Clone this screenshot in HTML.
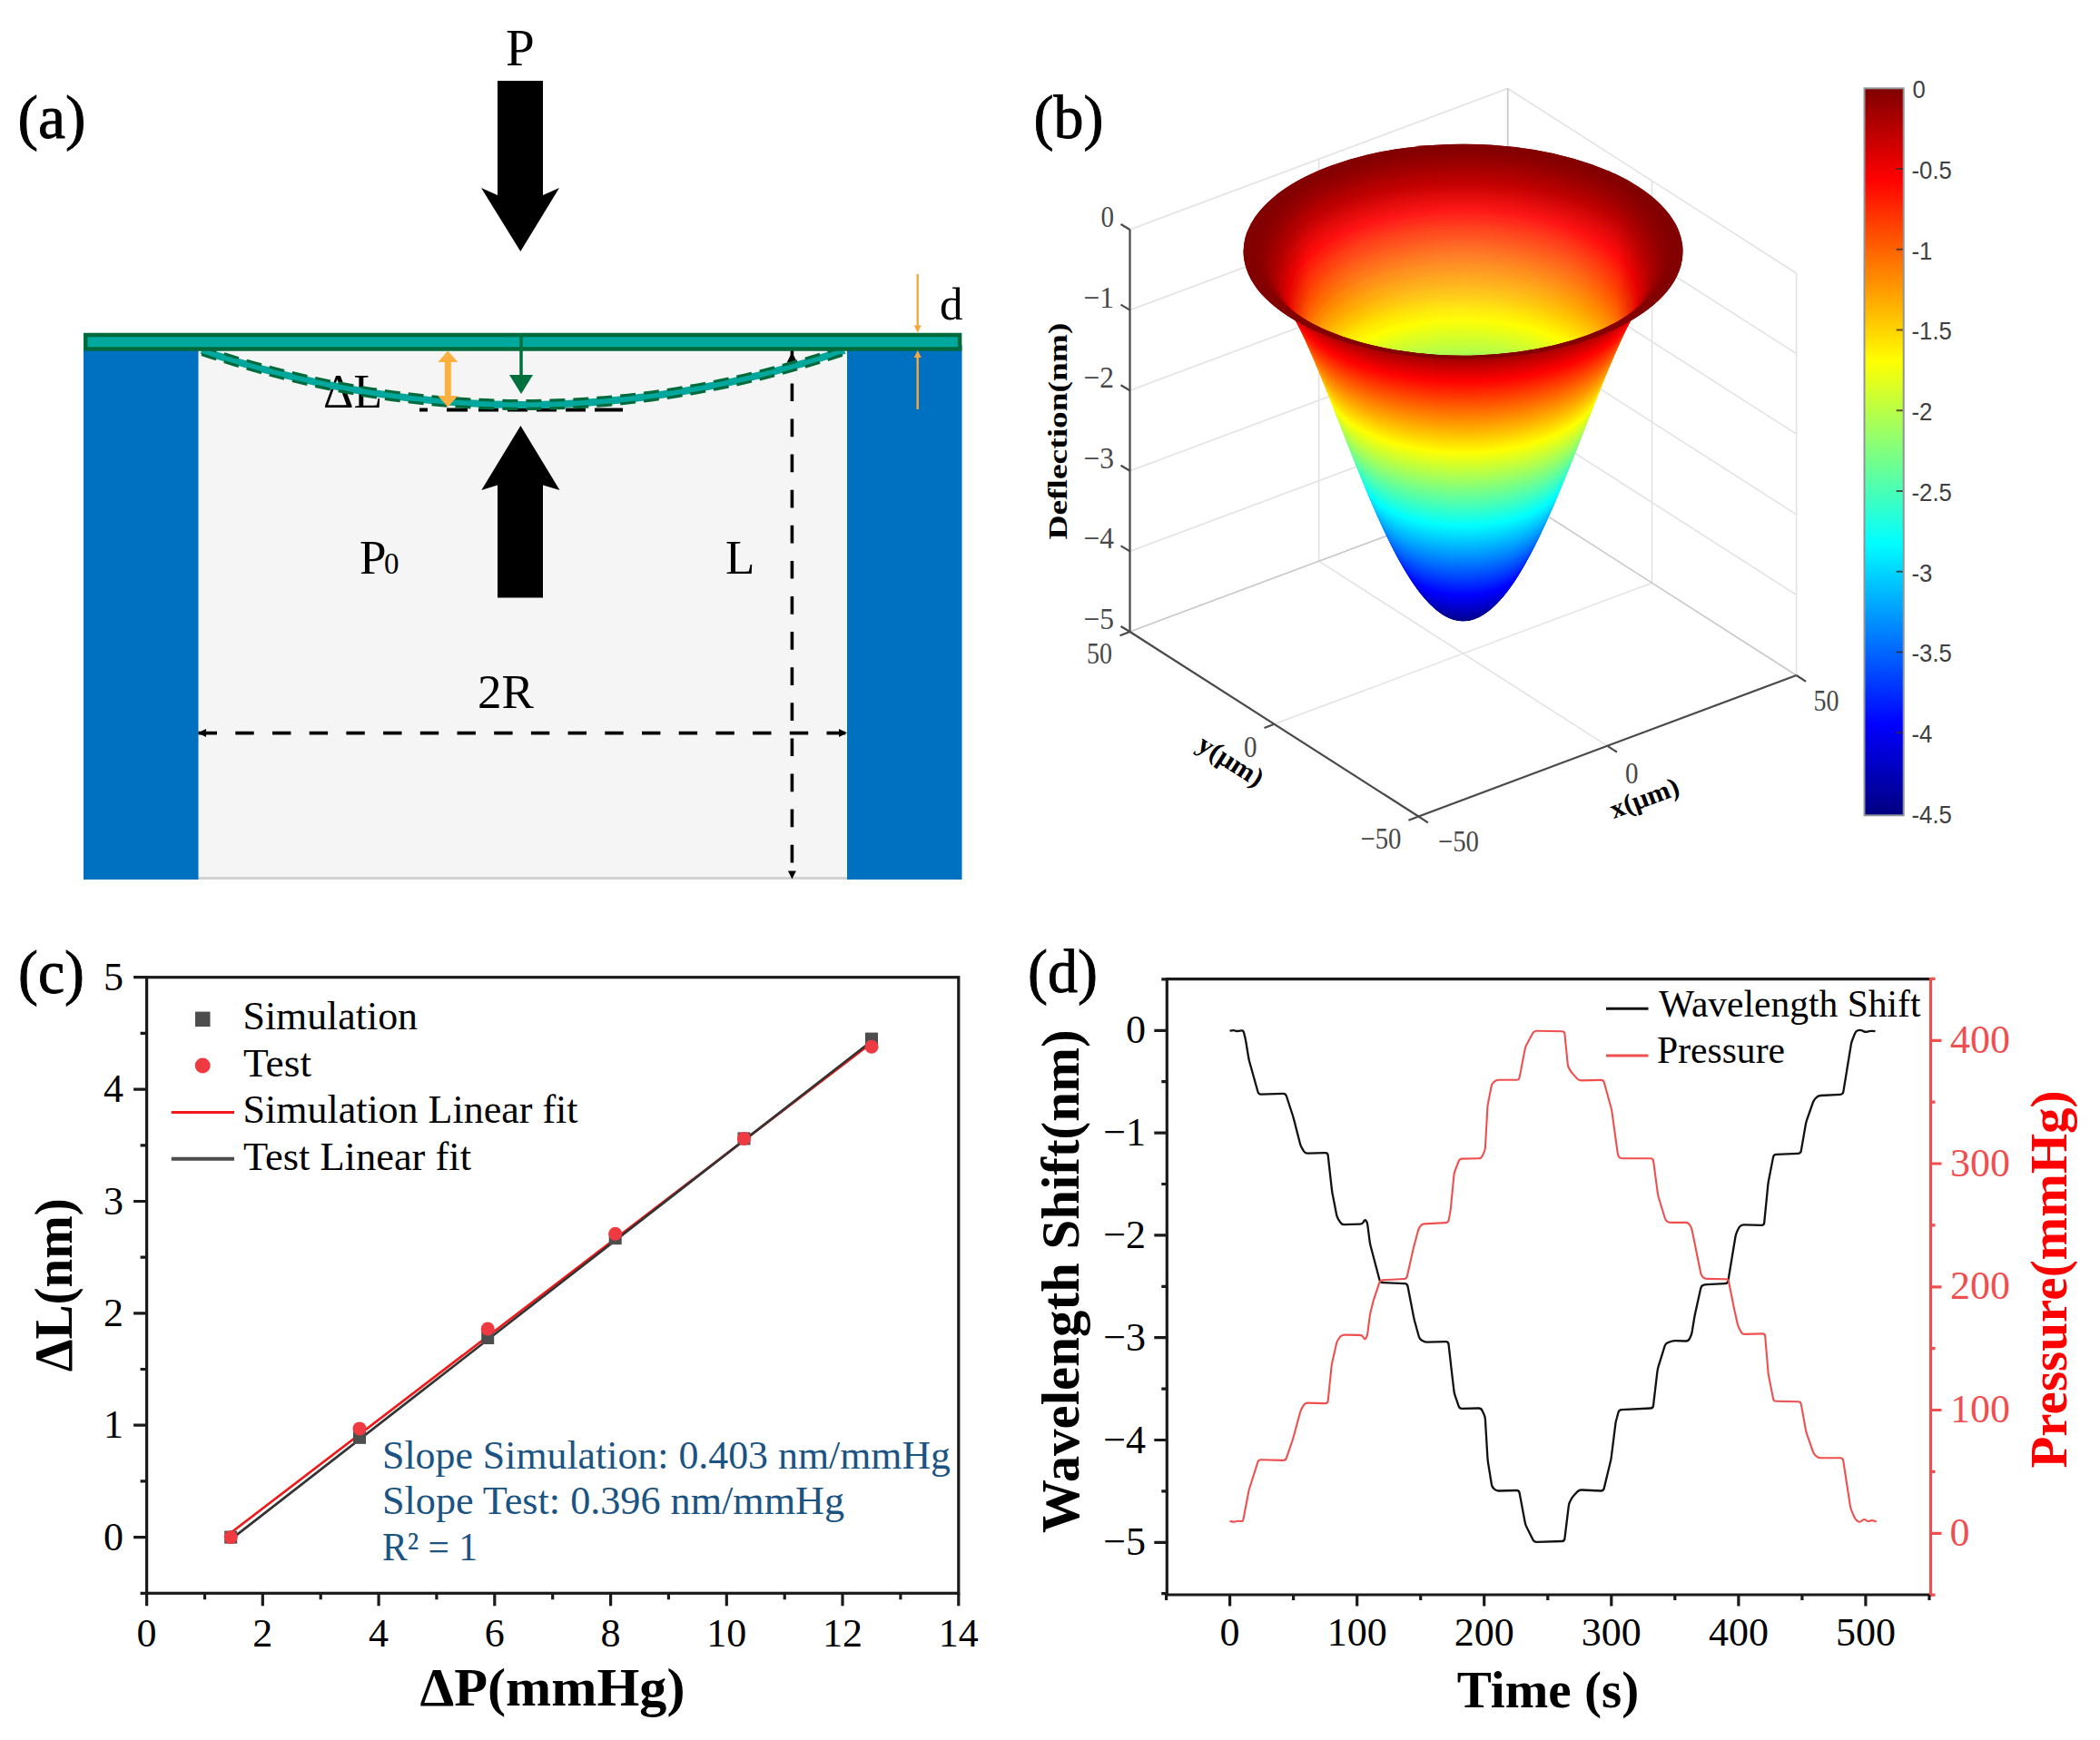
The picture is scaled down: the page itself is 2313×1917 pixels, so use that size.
<!DOCTYPE html>
<html><head><meta charset="utf-8"><title>Figure</title>
<style>
html,body{margin:0;padding:0;background:#fff;}
body{width:2313px;height:1917px;overflow:hidden;}
svg{display:block;}
svg{font-family:"Liberation Serif",serif;}
</style></head><body>
<svg width="2313" height="1917" viewBox="0 0 2313 1917">
<rect width="2313" height="1917" fill="#fff"/>
<g id="panel-a">
<rect x="218" y="380" width="716" height="589" fill="#f5f5f5"/>
<rect x="218" y="966" width="716" height="3" fill="#d2d2d2"/>
<rect x="92" y="380" width="126.5" height="589" fill="#0070c0"/>
<rect x="933" y="380" width="126.5" height="589" fill="#0070c0"/>
<text x="356" y="449" font-size="52">ΔL</text>
<path d="M218.6 807.6 H933" fill="none" stroke="#000" stroke-width="3.6" stroke-dasharray="20.4 20.3"/>
<path d="M872.4 383.3 V962" fill="none" stroke="#000" stroke-width="3.6" stroke-dasharray="19.7 19.4"/>
<path d="M218 807.6 l9 -4.5 v9 Z M933 807.6 l-9 -4.5 v9 Z M872.4 968.5 l-4.5 -9 h9 Z M872.4 388 l-5.5 11 h11 Z" fill="#000"/>
<path d="M462 451.5 H686" fill="none" stroke="#000" stroke-width="4" stroke-dasharray="9 21 23 12 22 10 22 10 22 10 22 10 22 0"/>
<path d="M222 386 Q576 506 930 386" fill="none" stroke="#00a79d" stroke-width="8"/>
<path d="M222 381.6 Q576 501.6 930 381.6" fill="none" stroke="#006a3c" stroke-width="3.2" stroke-dasharray="17 9"/>
<path d="M222 390.4 Q576 510.4 930 390.4" fill="none" stroke="#006a3c" stroke-width="3.2" stroke-dasharray="17 9"/>
<rect x="94.3" y="369" width="962.8" height="15.5" fill="#00a99d" stroke="#006a3c" stroke-width="4.5"/>
<path d="M548 89 H598 V215 L616 207 L573.3 277 L530 207 L548 215 Z" fill="#000"/>
<path d="M548 658.5 H598 V534.5 L616.5 540 L573.4 469 L530.3 540 L548 534.5 Z" fill="#000"/>
<path d="M574 367 V420" stroke="#00703c" stroke-width="3.5" fill="none"/><path d="M574 434 l-13 -21 h26 Z" fill="#00703c"/>
<path d="M493.3 398 V438" stroke="#fbb040" stroke-width="7" fill="none"/><path d="M493.3 386.5 l-11 12.5 h22 Z M493.3 448.5 l-11 -12.5 h22 Z" fill="#fbb040"/>
<path d="M1010.7 302 V360 M1010.7 392 V451" stroke="#f9a63a" stroke-width="2.4" fill="none"/><path d="M1010.7 366.5 l-4 -8 h8 Z M1010.7 386 l-4 8 h8 Z" fill="#f9a63a"/>
<text x="19.5" y="151.7" font-size="68" textLength="75" lengthAdjust="spacingAndGlyphs" stroke="#000" stroke-width="0.9">(a)</text>
<text x="557" y="71.5" font-size="57">P</text>
<text x="1035" y="352" font-size="51">d</text>
<text x="396" y="631.5" font-size="53">P</text>
<text x="423" y="631.5" font-size="33">0</text>
<text x="799" y="631.5" font-size="53">L</text>
<text x="526" y="779.5" font-size="53">2R</text>
</g>
<g id="panel-b">
<path d="M1244.5 253 L1660.7 97.5 M1244.5 341.6 L1660.7 186.1 M1244.5 430.2 L1660.7 274.7 M1244.5 518.8 L1660.7 363.3 M1244.5 607.4 L1660.7 451.9 M1244.5 696 L1660.7 540.5 M1244.5 696 L1244.5 253 M1452.6 618.2 L1452.6 175.2 M1660.7 540.5 L1660.7 97.5" fill="none" stroke="#000" stroke-opacity="0.115" stroke-width="1.6"/>
<path d="M1660.7 97.5 L1978.6 301 M1660.7 186.1 L1978.6 389.6 M1660.7 274.7 L1978.6 478.2 M1660.7 363.3 L1978.6 566.8 M1660.7 451.9 L1978.6 655.4 M1660.7 540.5 L1978.6 744 M1978.6 744 L1978.6 301 M1819.6 642.2 L1819.6 199.2 M1660.7 540.5 L1660.7 97.5" fill="none" stroke="#000" stroke-opacity="0.115" stroke-width="1.6"/>
<path d="M1562.4 899.5 L1244.5 696 M1562.4 899.5 L1978.6 744 M1770.5 821.8 L1452.6 618.2 M1403.5 797.8 L1819.6 642.2 M1978.6 744 L1660.7 540.5 M1244.5 696 L1660.7 540.5" fill="none" stroke="#000" stroke-opacity="0.115" stroke-width="1.6"/>
<g transform="matrix(4.1620 -1.5550 -3.1790 -2.0350 1611.55 277.00)">
<circle cx="-95.55" cy="-125.09" r="0.30" fill="#000080"/>
<circle cx="-95.13" cy="-124.55" r="2.13" fill="#000080"/>
<circle cx="-94.71" cy="-124.00" r="3.01" fill="#000080"/>
<circle cx="-94.30" cy="-123.46" r="3.69" fill="#000082"/>
<circle cx="-93.88" cy="-122.91" r="4.26" fill="#000086"/>
<circle cx="-93.47" cy="-122.37" r="4.77" fill="#00008b"/>
<circle cx="-93.05" cy="-121.83" r="5.23" fill="#00008f"/>
<circle cx="-92.64" cy="-121.28" r="5.65" fill="#000094"/>
<circle cx="-92.22" cy="-120.74" r="6.04" fill="#000098"/>
<circle cx="-91.81" cy="-120.19" r="6.41" fill="#00009d"/>
<circle cx="-91.39" cy="-119.65" r="6.76" fill="#0000a1"/>
<circle cx="-90.98" cy="-119.11" r="7.09" fill="#0000a5"/>
<circle cx="-90.56" cy="-118.56" r="7.41" fill="#0000aa"/>
<circle cx="-90.14" cy="-118.02" r="7.72" fill="#0000ae"/>
<circle cx="-89.73" cy="-117.48" r="8.02" fill="#0000b3"/>
<circle cx="-89.31" cy="-116.93" r="8.30" fill="#0000b7"/>
<circle cx="-88.90" cy="-116.39" r="8.58" fill="#0000bc"/>
<circle cx="-88.48" cy="-115.84" r="8.85" fill="#0000c0"/>
<circle cx="-88.07" cy="-115.30" r="9.11" fill="#0000c5"/>
<circle cx="-87.65" cy="-114.76" r="9.37" fill="#0000c9"/>
<circle cx="-87.24" cy="-114.21" r="9.62" fill="#0000ce"/>
<circle cx="-86.82" cy="-113.67" r="9.86" fill="#0000d2"/>
<circle cx="-86.41" cy="-113.12" r="10.10" fill="#0000d7"/>
<circle cx="-85.99" cy="-112.58" r="10.33" fill="#0000db"/>
<circle cx="-85.58" cy="-112.04" r="10.56" fill="#0000e0"/>
<circle cx="-85.16" cy="-111.49" r="10.78" fill="#0000e4"/>
<circle cx="-84.74" cy="-110.95" r="11.00" fill="#0000e9"/>
<circle cx="-84.33" cy="-110.41" r="11.22" fill="#0000ed"/>
<circle cx="-83.91" cy="-109.86" r="11.43" fill="#0000f2"/>
<circle cx="-83.50" cy="-109.32" r="11.64" fill="#0000f6"/>
<circle cx="-83.08" cy="-108.77" r="11.85" fill="#0000fb"/>
<circle cx="-82.67" cy="-108.23" r="12.05" fill="#0000ff"/>
<circle cx="-82.25" cy="-107.69" r="12.25" fill="#0005ff"/>
<circle cx="-81.84" cy="-107.14" r="12.45" fill="#0009ff"/>
<circle cx="-81.42" cy="-106.60" r="12.64" fill="#000eff"/>
<circle cx="-81.01" cy="-106.05" r="12.84" fill="#0012ff"/>
<circle cx="-80.59" cy="-105.51" r="13.03" fill="#0017ff"/>
<circle cx="-80.17" cy="-104.97" r="13.21" fill="#001bff"/>
<circle cx="-79.76" cy="-104.42" r="13.40" fill="#0020ff"/>
<circle cx="-79.34" cy="-103.88" r="13.58" fill="#0024ff"/>
<circle cx="-78.93" cy="-103.33" r="13.76" fill="#0029ff"/>
<circle cx="-78.51" cy="-102.79" r="13.94" fill="#002dff"/>
<circle cx="-78.10" cy="-102.25" r="14.12" fill="#0031ff"/>
<circle cx="-77.68" cy="-101.70" r="14.30" fill="#0036ff"/>
<circle cx="-77.27" cy="-101.16" r="14.47" fill="#003aff"/>
<circle cx="-76.85" cy="-100.62" r="14.65" fill="#003fff"/>
<circle cx="-76.44" cy="-100.07" r="14.82" fill="#0043ff"/>
<circle cx="-76.02" cy="-99.53" r="14.99" fill="#0048ff"/>
<circle cx="-75.61" cy="-98.98" r="15.15" fill="#004cff"/>
<circle cx="-75.19" cy="-98.44" r="15.32" fill="#0051ff"/>
<circle cx="-74.77" cy="-97.90" r="15.49" fill="#0055ff"/>
<circle cx="-74.36" cy="-97.35" r="15.65" fill="#005aff"/>
<circle cx="-73.94" cy="-96.81" r="15.81" fill="#005eff"/>
<circle cx="-73.53" cy="-96.26" r="15.98" fill="#0063ff"/>
<circle cx="-73.11" cy="-95.72" r="16.14" fill="#0067ff"/>
<circle cx="-72.70" cy="-95.18" r="16.30" fill="#006cff"/>
<circle cx="-72.28" cy="-94.63" r="16.46" fill="#0070ff"/>
<circle cx="-71.87" cy="-94.09" r="16.61" fill="#0075ff"/>
<circle cx="-71.45" cy="-93.55" r="16.77" fill="#0079ff"/>
<circle cx="-71.04" cy="-93.00" r="16.92" fill="#007eff"/>
<circle cx="-70.62" cy="-92.46" r="17.08" fill="#0082ff"/>
<circle cx="-70.21" cy="-91.91" r="17.23" fill="#0087ff"/>
<circle cx="-69.79" cy="-91.37" r="17.38" fill="#008bff"/>
<circle cx="-69.37" cy="-90.83" r="17.54" fill="#0090ff"/>
<circle cx="-68.96" cy="-90.28" r="17.69" fill="#0094ff"/>
<circle cx="-68.54" cy="-89.74" r="17.84" fill="#0099ff"/>
<circle cx="-68.13" cy="-89.19" r="17.99" fill="#009dff"/>
<circle cx="-67.71" cy="-88.65" r="18.13" fill="#00a2ff"/>
<circle cx="-67.30" cy="-88.11" r="18.28" fill="#00a6ff"/>
<circle cx="-66.88" cy="-87.56" r="18.43" fill="#00abff"/>
<circle cx="-66.47" cy="-87.02" r="18.58" fill="#00afff"/>
<circle cx="-66.05" cy="-86.47" r="18.72" fill="#00b4ff"/>
<circle cx="-65.64" cy="-85.93" r="18.87" fill="#00b8ff"/>
<circle cx="-65.22" cy="-85.39" r="19.01" fill="#00bdff"/>
<circle cx="-64.80" cy="-84.84" r="19.15" fill="#00c1ff"/>
<circle cx="-64.39" cy="-84.30" r="19.30" fill="#00c5ff"/>
<circle cx="-63.97" cy="-83.76" r="19.44" fill="#00caff"/>
<circle cx="-63.56" cy="-83.21" r="19.58" fill="#00ceff"/>
<circle cx="-63.14" cy="-82.67" r="19.72" fill="#00d3ff"/>
<circle cx="-62.73" cy="-82.12" r="19.86" fill="#00d7ff"/>
<circle cx="-62.31" cy="-81.58" r="20.00" fill="#00dcff"/>
<circle cx="-61.90" cy="-81.04" r="20.14" fill="#00e0ff"/>
<circle cx="-61.48" cy="-80.49" r="20.28" fill="#00e5ff"/>
<circle cx="-61.07" cy="-79.95" r="20.42" fill="#00e9ff"/>
<circle cx="-60.65" cy="-79.40" r="20.56" fill="#00eeff"/>
<circle cx="-60.24" cy="-78.86" r="20.70" fill="#00f2ff"/>
<circle cx="-59.82" cy="-78.32" r="20.83" fill="#00f7ff"/>
<circle cx="-59.40" cy="-77.77" r="20.97" fill="#00fbff"/>
<circle cx="-58.99" cy="-77.23" r="21.11" fill="#01fffe"/>
<circle cx="-58.57" cy="-76.69" r="21.24" fill="#05fffa"/>
<circle cx="-58.16" cy="-76.14" r="21.38" fill="#0afff5"/>
<circle cx="-57.74" cy="-75.60" r="21.51" fill="#0efff1"/>
<circle cx="-57.33" cy="-75.05" r="21.65" fill="#13ffec"/>
<circle cx="-56.91" cy="-74.51" r="21.78" fill="#17ffe8"/>
<circle cx="-56.50" cy="-73.97" r="21.92" fill="#1cffe3"/>
<circle cx="-56.08" cy="-73.42" r="22.05" fill="#20ffdf"/>
<circle cx="-55.67" cy="-72.88" r="22.19" fill="#25ffda"/>
<circle cx="-55.25" cy="-72.33" r="22.32" fill="#29ffd6"/>
<circle cx="-54.83" cy="-71.79" r="22.45" fill="#2effd1"/>
<circle cx="-54.42" cy="-71.25" r="22.58" fill="#32ffcd"/>
<circle cx="-54.00" cy="-70.70" r="22.72" fill="#37ffc8"/>
<circle cx="-53.59" cy="-70.16" r="22.85" fill="#3bffc4"/>
<circle cx="-53.17" cy="-69.62" r="22.98" fill="#40ffbf"/>
<circle cx="-52.76" cy="-69.07" r="23.11" fill="#44ffbb"/>
<circle cx="-52.34" cy="-68.53" r="23.24" fill="#49ffb6"/>
<circle cx="-51.93" cy="-67.98" r="23.38" fill="#4dffb2"/>
<circle cx="-51.51" cy="-67.44" r="23.51" fill="#51ffae"/>
<circle cx="-51.10" cy="-66.90" r="23.64" fill="#56ffa9"/>
<circle cx="-50.68" cy="-66.35" r="23.77" fill="#5affa5"/>
<circle cx="-50.27" cy="-65.81" r="23.90" fill="#5fffa0"/>
<circle cx="-49.85" cy="-65.26" r="24.03" fill="#63ff9c"/>
<circle cx="-49.43" cy="-64.72" r="24.16" fill="#68ff97"/>
<circle cx="-49.02" cy="-64.18" r="24.29" fill="#6cff93"/>
<circle cx="-48.60" cy="-63.63" r="24.42" fill="#71ff8e"/>
<circle cx="-48.19" cy="-63.09" r="24.55" fill="#75ff8a"/>
<circle cx="-47.77" cy="-62.54" r="24.68" fill="#7aff85"/>
<circle cx="-47.36" cy="-62.00" r="24.81" fill="#7eff81"/>
<circle cx="-46.94" cy="-61.46" r="24.94" fill="#83ff7c"/>
<circle cx="-46.53" cy="-60.91" r="25.07" fill="#87ff78"/>
<circle cx="-46.11" cy="-60.37" r="25.20" fill="#8cff73"/>
<circle cx="-45.70" cy="-59.83" r="25.32" fill="#90ff6f"/>
<circle cx="-45.28" cy="-59.28" r="25.45" fill="#95ff6a"/>
<circle cx="-44.86" cy="-58.74" r="25.58" fill="#99ff66"/>
<circle cx="-44.45" cy="-58.19" r="25.71" fill="#9eff61"/>
<circle cx="-44.03" cy="-57.65" r="25.84" fill="#a2ff5d"/>
<circle cx="-43.62" cy="-57.11" r="25.97" fill="#a7ff58"/>
<circle cx="-43.20" cy="-56.56" r="26.10" fill="#abff54"/>
<circle cx="-42.79" cy="-56.02" r="26.23" fill="#b0ff4f"/>
<circle cx="-42.37" cy="-55.47" r="26.36" fill="#b4ff4b"/>
<circle cx="-41.96" cy="-54.93" r="26.48" fill="#b9ff46"/>
<circle cx="-41.54" cy="-54.39" r="26.61" fill="#bdff42"/>
<circle cx="-41.13" cy="-53.84" r="26.74" fill="#c2ff3d"/>
<circle cx="-40.71" cy="-53.30" r="26.87" fill="#c6ff39"/>
<circle cx="-40.30" cy="-52.76" r="27.00" fill="#cbff34"/>
<circle cx="-39.88" cy="-52.21" r="27.13" fill="#cfff30"/>
<circle cx="-39.46" cy="-51.67" r="27.26" fill="#d4ff2b"/>
<circle cx="-39.05" cy="-51.12" r="27.39" fill="#d8ff27"/>
<circle cx="-38.63" cy="-50.58" r="27.52" fill="#dcff23"/>
<circle cx="-38.22" cy="-50.04" r="27.65" fill="#e1ff1e"/>
<circle cx="-37.80" cy="-49.49" r="27.77" fill="#e5ff1a"/>
<circle cx="-37.39" cy="-48.95" r="27.90" fill="#eaff15"/>
<circle cx="-36.97" cy="-48.40" r="28.03" fill="#eeff11"/>
<circle cx="-36.56" cy="-47.86" r="28.16" fill="#f3ff0c"/>
<circle cx="-36.14" cy="-47.32" r="28.29" fill="#f7ff08"/>
<circle cx="-35.73" cy="-46.77" r="28.42" fill="#fcff03"/>
<circle cx="-35.31" cy="-46.23" r="28.55" fill="#fffe00"/>
<circle cx="-34.89" cy="-45.68" r="28.68" fill="#fff900"/>
<circle cx="-34.48" cy="-45.14" r="28.81" fill="#fff500"/>
<circle cx="-34.06" cy="-44.60" r="28.94" fill="#fff000"/>
<circle cx="-33.65" cy="-44.05" r="29.08" fill="#ffec00"/>
<circle cx="-33.23" cy="-43.51" r="29.21" fill="#ffe700"/>
<circle cx="-32.82" cy="-42.97" r="29.34" fill="#ffe300"/>
<circle cx="-32.40" cy="-42.42" r="29.47" fill="#ffde00"/>
<circle cx="-31.99" cy="-41.88" r="29.60" fill="#ffda00"/>
<circle cx="-31.57" cy="-41.33" r="29.73" fill="#ffd500"/>
<circle cx="-31.16" cy="-40.79" r="29.87" fill="#ffd100"/>
<circle cx="-30.74" cy="-40.25" r="30.00" fill="#ffcc00"/>
<circle cx="-30.33" cy="-39.70" r="30.13" fill="#ffc800"/>
<circle cx="-29.91" cy="-39.16" r="30.26" fill="#ffc300"/>
<circle cx="-29.49" cy="-38.61" r="30.40" fill="#ffbf00"/>
<circle cx="-29.08" cy="-38.07" r="30.53" fill="#ffba00"/>
<circle cx="-28.66" cy="-37.53" r="30.67" fill="#ffb600"/>
<circle cx="-28.25" cy="-36.98" r="30.80" fill="#ffb100"/>
<circle cx="-27.83" cy="-36.44" r="30.94" fill="#ffad00"/>
<circle cx="-27.42" cy="-35.90" r="31.07" fill="#ffa800"/>
<circle cx="-27.00" cy="-35.35" r="31.21" fill="#ffa400"/>
<circle cx="-26.59" cy="-34.81" r="31.34" fill="#ff9f00"/>
<circle cx="-26.17" cy="-34.26" r="31.48" fill="#ff9b00"/>
<circle cx="-25.76" cy="-33.72" r="31.62" fill="#ff9700"/>
<circle cx="-25.34" cy="-33.18" r="31.76" fill="#ff9200"/>
<circle cx="-24.92" cy="-32.63" r="31.90" fill="#ff8e00"/>
<circle cx="-24.51" cy="-32.09" r="32.03" fill="#ff8900"/>
<circle cx="-24.09" cy="-31.54" r="32.17" fill="#ff8500"/>
<circle cx="-23.68" cy="-31.00" r="32.31" fill="#ff8000"/>
<circle cx="-23.26" cy="-30.46" r="32.46" fill="#ff7c00"/>
<circle cx="-22.85" cy="-29.91" r="32.60" fill="#ff7700"/>
<circle cx="-22.43" cy="-29.37" r="32.74" fill="#ff7300"/>
<circle cx="-22.02" cy="-28.82" r="32.88" fill="#ff6e00"/>
<circle cx="-21.60" cy="-28.28" r="33.03" fill="#ff6a00"/>
<circle cx="-21.19" cy="-27.74" r="33.17" fill="#ff6500"/>
<circle cx="-20.77" cy="-27.19" r="33.31" fill="#ff6100"/>
<circle cx="-20.36" cy="-26.65" r="33.46" fill="#ff5c00"/>
<circle cx="-19.94" cy="-26.11" r="33.61" fill="#ff5800"/>
<circle cx="-19.52" cy="-25.56" r="33.75" fill="#ff5300"/>
<circle cx="-19.11" cy="-25.02" r="33.90" fill="#ff4f00"/>
<circle cx="-18.69" cy="-24.47" r="34.05" fill="#ff4a00"/>
<circle cx="-18.28" cy="-23.93" r="34.20" fill="#ff4600"/>
<circle cx="-17.86" cy="-23.39" r="34.36" fill="#ff4100"/>
<circle cx="-17.45" cy="-22.84" r="34.51" fill="#ff3d00"/>
<circle cx="-17.03" cy="-22.30" r="34.66" fill="#ff3800"/>
<circle cx="-16.62" cy="-21.75" r="34.82" fill="#ff3400"/>
<circle cx="-16.20" cy="-21.21" r="34.97" fill="#ff2f00"/>
<circle cx="-15.79" cy="-20.67" r="35.13" fill="#ff2b00"/>
<circle cx="-15.37" cy="-20.12" r="35.29" fill="#ff2600"/>
<circle cx="-14.95" cy="-19.58" r="35.45" fill="#ff2200"/>
<circle cx="-14.54" cy="-19.04" r="35.61" fill="#ff1d00"/>
<circle cx="-14.12" cy="-18.49" r="35.78" fill="#ff1900"/>
<circle cx="-13.71" cy="-17.95" r="35.94" fill="#ff1400"/>
<circle cx="-13.29" cy="-17.40" r="36.11" fill="#ff1000"/>
<circle cx="-12.88" cy="-16.86" r="36.28" fill="#ff0c00"/>
<circle cx="-12.46" cy="-16.32" r="36.45" fill="#ff0700"/>
<circle cx="-12.05" cy="-15.77" r="36.62" fill="#ff0300"/>
<circle cx="-11.63" cy="-15.23" r="36.79" fill="#fd0000"/>
<circle cx="-11.22" cy="-14.68" r="36.97" fill="#f90000"/>
<circle cx="-10.80" cy="-14.14" r="37.15" fill="#f40000"/>
<circle cx="-10.39" cy="-13.60" r="37.33" fill="#f00000"/>
<circle cx="-9.97" cy="-13.05" r="37.52" fill="#eb0000"/>
<circle cx="-9.55" cy="-12.51" r="37.71" fill="#e70000"/>
<circle cx="-9.14" cy="-11.97" r="37.90" fill="#e20000"/>
<circle cx="-8.72" cy="-11.42" r="38.09" fill="#de0000"/>
<circle cx="-8.31" cy="-10.88" r="38.29" fill="#d90000"/>
<circle cx="-7.89" cy="-10.33" r="38.49" fill="#d50000"/>
<circle cx="-7.48" cy="-9.79" r="38.70" fill="#d00000"/>
<circle cx="-7.06" cy="-9.25" r="38.91" fill="#cc0000"/>
<circle cx="-6.65" cy="-8.70" r="39.13" fill="#c70000"/>
<circle cx="-6.23" cy="-8.16" r="39.35" fill="#c30000"/>
<circle cx="-5.82" cy="-7.61" r="39.58" fill="#be0000"/>
<circle cx="-5.40" cy="-7.07" r="39.81" fill="#ba0000"/>
<circle cx="-4.98" cy="-6.53" r="40.05" fill="#b50000"/>
<circle cx="-4.57" cy="-5.98" r="40.31" fill="#b10000"/>
<circle cx="-4.15" cy="-5.44" r="40.57" fill="#ac0000"/>
<circle cx="-3.74" cy="-4.89" r="40.84" fill="#a80000"/>
<circle cx="-3.32" cy="-4.35" r="41.13" fill="#a30000"/>
<circle cx="-2.91" cy="-3.81" r="41.43" fill="#9f0000"/>
<circle cx="-2.49" cy="-3.26" r="41.76" fill="#9a0000"/>
<circle cx="-2.08" cy="-2.72" r="42.10" fill="#960000"/>
<circle cx="-1.66" cy="-2.18" r="42.49" fill="#910000"/>
<circle cx="-1.25" cy="-1.63" r="42.92" fill="#8d0000"/>
<circle cx="-0.83" cy="-1.09" r="43.42" fill="#880000"/>
<circle cx="-0.42" cy="-0.54" r="44.07" fill="#840000"/>
<circle cx="0.00" cy="0.00" r="46.20" fill="#800000"/>
<mask id="rim" maskUnits="userSpaceOnUse" x="-60" y="-60" width="120" height="120"><circle cx="0" cy="0" r="46.20" fill="#fff"/></mask><g mask="url(#rim)" fill-rule="evenodd">
<circle r="46.20" fill="#19ffe6"/>
<path d="M-60-60h120v120h-120zM-78.55 -74.23a21.85 21.85 0 1 0 43.71 0a21.85 21.85 0 1 0 -43.71 0z" fill="#19ffe6"/>
<path d="M-60-60h120v120h-120zM-78.29 -73.73a21.98 21.98 0 1 0 43.95 0a21.98 21.98 0 1 0 -43.95 0z" fill="#1effe1"/>
<path d="M-60-60h120v120h-120zM-78.04 -73.24a22.10 22.10 0 1 0 44.19 0a22.10 22.10 0 1 0 -44.19 0z" fill="#22ffdd"/>
<path d="M-60-60h120v120h-120zM-77.78 -72.74a22.22 22.22 0 1 0 44.44 0a22.22 22.22 0 1 0 -44.44 0z" fill="#26ffd9"/>
<path d="M-60-60h120v120h-120zM-77.53 -72.25a22.34 22.34 0 1 0 44.68 0a22.34 22.34 0 1 0 -44.68 0z" fill="#2affd5"/>
<path d="M-60-60h120v120h-120zM-77.27 -71.75a22.46 22.46 0 1 0 44.92 0a22.46 22.46 0 1 0 -44.92 0z" fill="#2effd1"/>
<path d="M-60-60h120v120h-120zM-77.01 -71.26a22.58 22.58 0 1 0 45.16 0a22.58 22.58 0 1 0 -45.16 0z" fill="#32ffcd"/>
<path d="M-60-60h120v120h-120zM-76.75 -70.76a22.70 22.70 0 1 0 45.40 0a22.70 22.70 0 1 0 -45.40 0z" fill="#36ffc9"/>
<path d="M-60-60h120v120h-120zM-76.50 -70.27a22.82 22.82 0 1 0 45.65 0a22.82 22.82 0 1 0 -45.65 0z" fill="#3affc5"/>
<path d="M-60-60h120v120h-120zM-76.24 -69.78a22.94 22.94 0 1 0 45.89 0a22.94 22.94 0 1 0 -45.89 0z" fill="#3effc1"/>
<path d="M-60-60h120v120h-120zM-75.98 -69.28a23.06 23.06 0 1 0 46.13 0a23.06 23.06 0 1 0 -46.13 0z" fill="#42ffbd"/>
<path d="M-60-60h120v120h-120zM-75.72 -68.79a23.18 23.18 0 1 0 46.36 0a23.18 23.18 0 1 0 -46.36 0z" fill="#46ffb9"/>
<path d="M-60-60h120v120h-120zM-75.46 -68.29a23.30 23.30 0 1 0 46.60 0a23.30 23.30 0 1 0 -46.60 0z" fill="#4affb5"/>
<path d="M-60-60h120v120h-120zM-75.20 -67.80a23.42 23.42 0 1 0 46.84 0a23.42 23.42 0 1 0 -46.84 0z" fill="#4fffb0"/>
<path d="M-60-60h120v120h-120zM-74.95 -67.30a23.54 23.54 0 1 0 47.08 0a23.54 23.54 0 1 0 -47.08 0z" fill="#53ffac"/>
<path d="M-60-60h120v120h-120zM-74.69 -66.81a23.66 23.66 0 1 0 47.32 0a23.66 23.66 0 1 0 -47.32 0z" fill="#57ffa8"/>
<path d="M-60-60h120v120h-120zM-74.43 -66.31a23.78 23.78 0 1 0 47.56 0a23.78 23.78 0 1 0 -47.56 0z" fill="#5bffa4"/>
<path d="M-60-60h120v120h-120zM-74.17 -65.82a23.90 23.90 0 1 0 47.79 0a23.90 23.90 0 1 0 -47.79 0z" fill="#5fffa0"/>
<path d="M-60-60h120v120h-120zM-73.91 -65.32a24.02 24.02 0 1 0 48.03 0a24.02 24.02 0 1 0 -48.03 0z" fill="#63ff9c"/>
<path d="M-60-60h120v120h-120zM-73.65 -64.83a24.13 24.13 0 1 0 48.27 0a24.13 24.13 0 1 0 -48.27 0z" fill="#67ff98"/>
<path d="M-60-60h120v120h-120zM-73.39 -64.33a24.25 24.25 0 1 0 48.50 0a24.25 24.25 0 1 0 -48.50 0z" fill="#6bff94"/>
<path d="M-60-60h120v120h-120zM-73.13 -63.84a24.37 24.37 0 1 0 48.74 0a24.37 24.37 0 1 0 -48.74 0z" fill="#6fff90"/>
<path d="M-60-60h120v120h-120zM-72.87 -63.34a24.49 24.49 0 1 0 48.98 0a24.49 24.49 0 1 0 -48.98 0z" fill="#73ff8c"/>
<path d="M-60-60h120v120h-120zM-72.61 -62.85a24.61 24.61 0 1 0 49.21 0a24.61 24.61 0 1 0 -49.21 0z" fill="#77ff88"/>
<path d="M-60-60h120v120h-120zM-72.35 -62.35a24.72 24.72 0 1 0 49.45 0a24.72 24.72 0 1 0 -49.45 0z" fill="#7bff84"/>
<path d="M-60-60h120v120h-120zM-72.09 -61.86a24.84 24.84 0 1 0 49.68 0a24.84 24.84 0 1 0 -49.68 0z" fill="#80ff80"/>
<path d="M-60-60h120v120h-120zM-71.83 -61.36a24.96 24.96 0 1 0 49.92 0a24.96 24.96 0 1 0 -49.92 0z" fill="#84ff7b"/>
<path d="M-60-60h120v120h-120zM-71.57 -60.87a25.08 25.08 0 1 0 50.15 0a25.08 25.08 0 1 0 -50.15 0z" fill="#88ff77"/>
<path d="M-60-60h120v120h-120zM-71.31 -60.37a25.19 25.19 0 1 0 50.39 0a25.19 25.19 0 1 0 -50.39 0z" fill="#8cff73"/>
<path d="M-60-60h120v120h-120zM-71.05 -59.88a25.31 25.31 0 1 0 50.62 0a25.31 25.31 0 1 0 -50.62 0z" fill="#90ff6f"/>
<path d="M-60-60h120v120h-120zM-70.79 -59.38a25.43 25.43 0 1 0 50.86 0a25.43 25.43 0 1 0 -50.86 0z" fill="#94ff6b"/>
<path d="M-60-60h120v120h-120zM-70.53 -58.89a25.55 25.55 0 1 0 51.09 0a25.55 25.55 0 1 0 -51.09 0z" fill="#98ff67"/>
<path d="M-60-60h120v120h-120zM-70.27 -58.39a25.66 25.66 0 1 0 51.33 0a25.66 25.66 0 1 0 -51.33 0z" fill="#9cff63"/>
<path d="M-60-60h120v120h-120zM-70.01 -57.90a25.78 25.78 0 1 0 51.56 0a25.78 25.78 0 1 0 -51.56 0z" fill="#a0ff5f"/>
<path d="M-60-60h120v120h-120zM-69.74 -57.40a25.90 25.90 0 1 0 51.80 0a25.90 25.90 0 1 0 -51.80 0z" fill="#a4ff5b"/>
<path d="M-60-60h120v120h-120zM-69.48 -56.91a26.02 26.02 0 1 0 52.03 0a26.02 26.02 0 1 0 -52.03 0z" fill="#a8ff57"/>
<path d="M-60-60h120v120h-120zM-69.22 -56.41a26.13 26.13 0 1 0 52.27 0a26.13 26.13 0 1 0 -52.27 0z" fill="#acff53"/>
<path d="M-60-60h120v120h-120zM-68.96 -55.92a26.25 26.25 0 1 0 52.50 0a26.25 26.25 0 1 0 -52.50 0z" fill="#b0ff4f"/>
<path d="M-60-60h120v120h-120zM-68.70 -55.42a26.37 26.37 0 1 0 52.74 0a26.37 26.37 0 1 0 -52.74 0z" fill="#b5ff4a"/>
<path d="M-60-60h120v120h-120zM-68.44 -54.93a26.48 26.48 0 1 0 52.97 0a26.48 26.48 0 1 0 -52.97 0z" fill="#b9ff46"/>
<path d="M-60-60h120v120h-120zM-68.18 -54.43a26.60 26.60 0 1 0 53.20 0a26.60 26.60 0 1 0 -53.20 0z" fill="#bdff42"/>
<path d="M-60-60h120v120h-120zM-67.92 -53.94a26.72 26.72 0 1 0 53.44 0a26.72 26.72 0 1 0 -53.44 0z" fill="#c1ff3e"/>
<path d="M-60-60h120v120h-120zM-67.66 -53.44a26.84 26.84 0 1 0 53.67 0a26.84 26.84 0 1 0 -53.67 0z" fill="#c5ff3a"/>
<path d="M-60-60h120v120h-120zM-67.40 -52.95a26.95 26.95 0 1 0 53.91 0a26.95 26.95 0 1 0 -53.91 0z" fill="#c9ff36"/>
<path d="M-60-60h120v120h-120zM-67.14 -52.46a27.07 27.07 0 1 0 54.14 0a27.07 27.07 0 1 0 -54.14 0z" fill="#cdff32"/>
<path d="M-60-60h120v120h-120zM-66.88 -51.96a27.19 27.19 0 1 0 54.38 0a27.19 27.19 0 1 0 -54.38 0z" fill="#d1ff2e"/>
<path d="M-60-60h120v120h-120zM-66.62 -51.47a27.31 27.31 0 1 0 54.61 0a27.31 27.31 0 1 0 -54.61 0z" fill="#d5ff2a"/>
<path d="M-60-60h120v120h-120zM-66.36 -50.97a27.42 27.42 0 1 0 54.85 0a27.42 27.42 0 1 0 -54.85 0z" fill="#d9ff26"/>
<path d="M-60-60h120v120h-120zM-66.09 -50.48a27.54 27.54 0 1 0 55.08 0a27.54 27.54 0 1 0 -55.08 0z" fill="#ddff22"/>
<path d="M-60-60h120v120h-120zM-65.83 -49.98a27.66 27.66 0 1 0 55.32 0a27.66 27.66 0 1 0 -55.32 0z" fill="#e1ff1e"/>
<path d="M-60-60h120v120h-120zM-65.57 -49.49a27.78 27.78 0 1 0 55.55 0a27.78 27.78 0 1 0 -55.55 0z" fill="#e5ff1a"/>
<path d="M-60-60h120v120h-120zM-65.31 -48.99a27.89 27.89 0 1 0 55.79 0a27.89 27.89 0 1 0 -55.79 0z" fill="#eaff15"/>
<path d="M-60-60h120v120h-120zM-65.05 -48.50a28.01 28.01 0 1 0 56.02 0a28.01 28.01 0 1 0 -56.02 0z" fill="#eeff11"/>
<path d="M-60-60h120v120h-120zM-64.79 -48.00a28.13 28.13 0 1 0 56.26 0a28.13 28.13 0 1 0 -56.26 0z" fill="#f2ff0d"/>
<path d="M-60-60h120v120h-120zM-64.53 -47.51a28.25 28.25 0 1 0 56.50 0a28.25 28.25 0 1 0 -56.50 0z" fill="#f6ff09"/>
<path d="M-60-60h120v120h-120zM-64.27 -47.01a28.37 28.37 0 1 0 56.73 0a28.37 28.37 0 1 0 -56.73 0z" fill="#faff05"/>
<path d="M-60-60h120v120h-120zM-64.01 -46.52a28.48 28.48 0 1 0 56.97 0a28.48 28.48 0 1 0 -56.97 0z" fill="#feff01"/>
<path d="M-60-60h120v120h-120zM-63.75 -46.02a28.60 28.60 0 1 0 57.21 0a28.60 28.60 0 1 0 -57.21 0z" fill="#fffc00"/>
<path d="M-60-60h120v120h-120zM-63.50 -45.53a28.72 28.72 0 1 0 57.44 0a28.72 28.72 0 1 0 -57.44 0z" fill="#fff800"/>
<path d="M-60-60h120v120h-120zM-63.24 -45.03a28.84 28.84 0 1 0 57.68 0a28.84 28.84 0 1 0 -57.68 0z" fill="#fff400"/>
<path d="M-60-60h120v120h-120zM-62.98 -44.54a28.96 28.96 0 1 0 57.92 0a28.96 28.96 0 1 0 -57.92 0z" fill="#fff000"/>
<path d="M-60-60h120v120h-120zM-62.72 -44.04a29.08 29.08 0 1 0 58.16 0a29.08 29.08 0 1 0 -58.16 0z" fill="#ffec00"/>
<path d="M-60-60h120v120h-120zM-62.46 -43.55a29.20 29.20 0 1 0 58.39 0a29.20 29.20 0 1 0 -58.39 0z" fill="#ffe800"/>
<path d="M-60-60h120v120h-120zM-62.20 -43.05a29.32 29.32 0 1 0 58.63 0a29.32 29.32 0 1 0 -58.63 0z" fill="#ffe300"/>
<path d="M-60-60h120v120h-120zM-61.94 -42.56a29.44 29.44 0 1 0 58.87 0a29.44 29.44 0 1 0 -58.87 0z" fill="#ffdf00"/>
<path d="M-60-60h120v120h-120zM-61.68 -42.06a29.56 29.56 0 1 0 59.11 0a29.56 29.56 0 1 0 -59.11 0z" fill="#ffdb00"/>
<path d="M-60-60h120v120h-120zM-61.43 -41.57a29.68 29.68 0 1 0 59.35 0a29.68 29.68 0 1 0 -59.35 0z" fill="#ffd700"/>
<path d="M-60-60h120v120h-120zM-61.17 -41.07a29.80 29.80 0 1 0 59.59 0a29.80 29.80 0 1 0 -59.59 0z" fill="#ffd300"/>
<path d="M-60-60h120v120h-120zM-60.91 -40.58a29.92 29.92 0 1 0 59.83 0a29.92 29.92 0 1 0 -59.83 0z" fill="#ffcf00"/>
<path d="M-60-60h120v120h-120zM-60.65 -40.08a30.04 30.04 0 1 0 60.08 0a30.04 30.04 0 1 0 -60.08 0z" fill="#ffcb00"/>
<path d="M-60-60h120v120h-120zM-60.40 -39.59a30.16 30.16 0 1 0 60.32 0a30.16 30.16 0 1 0 -60.32 0z" fill="#ffc700"/>
<path d="M-60-60h120v120h-120zM-60.14 -39.09a30.28 30.28 0 1 0 60.56 0a30.28 30.28 0 1 0 -60.56 0z" fill="#ffc300"/>
<path d="M-60-60h120v120h-120zM-59.88 -38.60a30.40 30.40 0 1 0 60.80 0a30.40 30.40 0 1 0 -60.80 0z" fill="#ffbf00"/>
<path d="M-60-60h120v120h-120zM-59.63 -38.10a30.52 30.52 0 1 0 61.05 0a30.52 30.52 0 1 0 -61.05 0z" fill="#ffbb00"/>
<path d="M-60-60h120v120h-120zM-59.37 -37.61a30.65 30.65 0 1 0 61.29 0a30.65 30.65 0 1 0 -61.29 0z" fill="#ffb700"/>
<path d="M-60-60h120v120h-120zM-59.12 -37.11a30.77 30.77 0 1 0 61.54 0a30.77 30.77 0 1 0 -61.54 0z" fill="#ffb300"/>
<path d="M-60-60h120v120h-120zM-58.86 -36.62a30.89 30.89 0 1 0 61.78 0a30.89 30.89 0 1 0 -61.78 0z" fill="#ffae00"/>
<path d="M-60-60h120v120h-120zM-58.61 -36.12a31.01 31.01 0 1 0 62.03 0a31.01 31.01 0 1 0 -62.03 0z" fill="#ffaa00"/>
<path d="M-60-60h120v120h-120zM-58.35 -35.63a31.14 31.14 0 1 0 62.28 0a31.14 31.14 0 1 0 -62.28 0z" fill="#ffa600"/>
<path d="M-60-60h120v120h-120zM-58.10 -35.14a31.26 31.26 0 1 0 62.52 0a31.26 31.26 0 1 0 -62.52 0z" fill="#ffa200"/>
<path d="M-60-60h120v120h-120zM-57.85 -34.64a31.39 31.39 0 1 0 62.77 0a31.39 31.39 0 1 0 -62.77 0z" fill="#ff9e00"/>
<path d="M-60-60h120v120h-120zM-57.59 -34.15a31.51 31.51 0 1 0 63.02 0a31.51 31.51 0 1 0 -63.02 0z" fill="#ff9a00"/>
<path d="M-60-60h120v120h-120zM-57.34 -33.65a31.64 31.64 0 1 0 63.27 0a31.64 31.64 0 1 0 -63.27 0z" fill="#ff9600"/>
<path d="M-60-60h120v120h-120zM-57.09 -33.16a31.76 31.76 0 1 0 63.52 0a31.76 31.76 0 1 0 -63.52 0z" fill="#ff9200"/>
<path d="M-60-60h120v120h-120zM-56.83 -32.66a31.89 31.89 0 1 0 63.78 0a31.89 31.89 0 1 0 -63.78 0z" fill="#ff8e00"/>
<path d="M-60-60h120v120h-120zM-56.58 -32.17a32.01 32.01 0 1 0 64.03 0a32.01 32.01 0 1 0 -64.03 0z" fill="#ff8a00"/>
<path d="M-60-60h120v120h-120zM-56.33 -31.67a32.14 32.14 0 1 0 64.28 0a32.14 32.14 0 1 0 -64.28 0z" fill="#ff8600"/>
<path d="M-60-60h120v120h-120zM-56.08 -31.18a32.27 32.27 0 1 0 64.54 0a32.27 32.27 0 1 0 -64.54 0z" fill="#ff8200"/>
<path d="M-60-60h120v120h-120zM-55.83 -30.68a32.40 32.40 0 1 0 64.79 0a32.40 32.40 0 1 0 -64.79 0z" fill="#ff7d00"/>
<path d="M-60-60h120v120h-120zM-55.58 -30.19a32.53 32.53 0 1 0 65.05 0a32.53 32.53 0 1 0 -65.05 0z" fill="#ff7900"/>
<path d="M-60-60h120v120h-120zM-55.33 -29.69a32.65 32.65 0 1 0 65.31 0a32.65 32.65 0 1 0 -65.31 0z" fill="#ff7500"/>
<path d="M-60-60h120v120h-120zM-55.08 -29.20a32.78 32.78 0 1 0 65.57 0a32.78 32.78 0 1 0 -65.57 0z" fill="#ff7100"/>
<path d="M-60-60h120v120h-120zM-54.84 -28.70a32.91 32.91 0 1 0 65.83 0a32.91 32.91 0 1 0 -65.83 0z" fill="#ff6d00"/>
<path d="M-60-60h120v120h-120zM-54.59 -28.21a33.04 33.04 0 1 0 66.09 0a33.04 33.04 0 1 0 -66.09 0z" fill="#ff6900"/>
<path d="M-60-60h120v120h-120zM-54.34 -27.71a33.18 33.18 0 1 0 66.35 0a33.18 33.18 0 1 0 -66.35 0z" fill="#ff6500"/>
<path d="M-60-60h120v120h-120zM-54.10 -27.22a33.31 33.31 0 1 0 66.62 0a33.31 33.31 0 1 0 -66.62 0z" fill="#ff6100"/>
<path d="M-60-60h120v120h-120zM-53.85 -26.72a33.44 33.44 0 1 0 66.88 0a33.44 33.44 0 1 0 -66.88 0z" fill="#ff5d00"/>
<path d="M-60-60h120v120h-120zM-53.61 -26.23a33.57 33.57 0 1 0 67.15 0a33.57 33.57 0 1 0 -67.15 0z" fill="#ff5900"/>
<path d="M-60-60h120v120h-120zM-53.36 -25.73a33.71 33.71 0 1 0 67.42 0a33.71 33.71 0 1 0 -67.42 0z" fill="#ff5500"/>
<path d="M-60-60h120v120h-120zM-53.12 -25.24a33.84 33.84 0 1 0 67.69 0a33.84 33.84 0 1 0 -67.69 0z" fill="#ff5100"/>
<path d="M-60-60h120v120h-120zM-52.88 -24.74a33.98 33.98 0 1 0 67.96 0a33.98 33.98 0 1 0 -67.96 0z" fill="#ff4c00"/>
<path d="M-60-60h120v120h-120zM-52.64 -24.25a34.12 34.12 0 1 0 68.23 0a34.12 34.12 0 1 0 -68.23 0z" fill="#ff4800"/>
<path d="M-60-60h120v120h-120zM-52.40 -23.75a34.25 34.25 0 1 0 68.51 0a34.25 34.25 0 1 0 -68.51 0z" fill="#ff4400"/>
<path d="M-60-60h120v120h-120zM-52.16 -23.26a34.39 34.39 0 1 0 68.78 0a34.39 34.39 0 1 0 -68.78 0z" fill="#ff4000"/>
<path d="M-60-60h120v120h-120zM-51.92 -22.76a34.53 34.53 0 1 0 69.06 0a34.53 34.53 0 1 0 -69.06 0z" fill="#ff3c00"/>
<path d="M-60-60h120v120h-120zM-51.68 -22.27a34.67 34.67 0 1 0 69.34 0a34.67 34.67 0 1 0 -69.34 0z" fill="#ff3800"/>
<path d="M-60-60h120v120h-120zM-51.44 -21.77a34.81 34.81 0 1 0 69.62 0a34.81 34.81 0 1 0 -69.62 0z" fill="#ff3400"/>
<path d="M-60-60h120v120h-120zM-51.21 -21.28a34.95 34.95 0 1 0 69.91 0a34.95 34.95 0 1 0 -69.91 0z" fill="#ff3000"/>
<path d="M-60-60h120v120h-120zM-50.97 -20.78a35.10 35.10 0 1 0 70.19 0a35.10 35.10 0 1 0 -70.19 0z" fill="#ff2c00"/>
<path d="M-60-60h120v120h-120zM-50.74 -20.29a35.24 35.24 0 1 0 70.48 0a35.24 35.24 0 1 0 -70.48 0z" fill="#ff2800"/>
<path d="M-60-60h120v120h-120zM-50.51 -19.79a35.39 35.39 0 1 0 70.77 0a35.39 35.39 0 1 0 -70.77 0z" fill="#ff2400"/>
<path d="M-60-60h120v120h-120zM-50.27 -19.30a35.53 35.53 0 1 0 71.07 0a35.53 35.53 0 1 0 -71.07 0z" fill="#ff2000"/>
<path d="M-60-60h120v120h-120zM-50.04 -18.80a35.68 35.68 0 1 0 71.36 0a35.68 35.68 0 1 0 -71.36 0z" fill="#ff1c00"/>
<path d="M-60-60h120v120h-120zM-49.82 -18.31a35.83 35.83 0 1 0 71.66 0a35.83 35.83 0 1 0 -71.66 0z" fill="#ff1700"/>
<path d="M-60-60h120v120h-120zM-49.59 -17.81a35.98 35.98 0 1 0 71.96 0a35.98 35.98 0 1 0 -71.96 0z" fill="#ff1300"/>
<path d="M-60-60h120v120h-120zM-49.36 -17.32a36.13 36.13 0 1 0 72.27 0a36.13 36.13 0 1 0 -72.27 0z" fill="#ff0f00"/>
<path d="M-60-60h120v120h-120zM-49.14 -16.83a36.29 36.29 0 1 0 72.57 0a36.29 36.29 0 1 0 -72.57 0z" fill="#ff0b00"/>
<path d="M-60-60h120v120h-120zM-48.92 -16.33a36.44 36.44 0 1 0 72.88 0a36.44 36.44 0 1 0 -72.88 0z" fill="#ff0700"/>
<path d="M-60-60h120v120h-120zM-48.69 -15.84a36.60 36.60 0 1 0 73.20 0a36.60 36.60 0 1 0 -73.20 0z" fill="#ff0300"/>
<path d="M-60-60h120v120h-120zM-48.48 -15.34a36.76 36.76 0 1 0 73.52 0a36.76 36.76 0 1 0 -73.52 0z" fill="#fe0000"/>
<path d="M-60-60h120v120h-120zM-48.26 -14.85a36.92 36.92 0 1 0 73.84 0a36.92 36.92 0 1 0 -73.84 0z" fill="#fa0000"/>
<path d="M-60-60h120v120h-120zM-48.04 -14.35a37.08 37.08 0 1 0 74.16 0a37.08 37.08 0 1 0 -74.16 0z" fill="#f60000"/>
<path d="M-60-60h120v120h-120zM-47.83 -13.86a37.25 37.25 0 1 0 74.49 0a37.25 37.25 0 1 0 -74.49 0z" fill="#f20000"/>
<path d="M-60-60h120v120h-120zM-47.62 -13.36a37.41 37.41 0 1 0 74.83 0a37.41 37.41 0 1 0 -74.83 0z" fill="#ee0000"/>
<path d="M-60-60h120v120h-120zM-47.41 -12.87a37.58 37.58 0 1 0 75.17 0a37.58 37.58 0 1 0 -75.17 0z" fill="#ea0000"/>
<path d="M-60-60h120v120h-120zM-47.20 -12.37a37.75 37.75 0 1 0 75.51 0a37.75 37.75 0 1 0 -75.51 0z" fill="#e50000"/>
<path d="M-60-60h120v120h-120zM-47.00 -11.88a37.93 37.93 0 1 0 75.86 0a37.93 37.93 0 1 0 -75.86 0z" fill="#e10000"/>
<path d="M-60-60h120v120h-120zM-46.80 -11.38a38.11 38.11 0 1 0 76.21 0a38.11 38.11 0 1 0 -76.21 0z" fill="#dd0000"/>
<path d="M-60-60h120v120h-120zM-46.60 -10.89a38.29 38.29 0 1 0 76.57 0a38.29 38.29 0 1 0 -76.57 0z" fill="#d90000"/>
<path d="M-60-60h120v120h-120zM-46.41 -10.39a38.47 38.47 0 1 0 76.94 0a38.47 38.47 0 1 0 -76.94 0z" fill="#d50000"/>
<path d="M-60-60h120v120h-120zM-46.22 -9.90a38.66 38.66 0 1 0 77.32 0a38.66 38.66 0 1 0 -77.32 0z" fill="#d10000"/>
<path d="M-60-60h120v120h-120zM-46.03 -9.40a38.85 38.85 0 1 0 77.70 0a38.85 38.85 0 1 0 -77.70 0z" fill="#cd0000"/>
<path d="M-60-60h120v120h-120zM-45.85 -8.91a39.04 39.04 0 1 0 78.09 0a39.04 39.04 0 1 0 -78.09 0z" fill="#c90000"/>
<path d="M-60-60h120v120h-120zM-45.67 -8.41a39.24 39.24 0 1 0 78.49 0a39.24 39.24 0 1 0 -78.49 0z" fill="#c50000"/>
<path d="M-60-60h120v120h-120zM-45.50 -7.92a39.45 39.45 0 1 0 78.90 0a39.45 39.45 0 1 0 -78.90 0z" fill="#c10000"/>
<path d="M-60-60h120v120h-120zM-45.33 -7.42a39.66 39.66 0 1 0 79.32 0a39.66 39.66 0 1 0 -79.32 0z" fill="#bd0000"/>
<path d="M-60-60h120v120h-120zM-45.17 -6.93a39.87 39.87 0 1 0 79.75 0a39.87 39.87 0 1 0 -79.75 0z" fill="#b90000"/>
<path d="M-60-60h120v120h-120zM-45.01 -6.43a40.10 40.10 0 1 0 80.19 0a40.10 40.10 0 1 0 -80.19 0z" fill="#b50000"/>
<path d="M-60-60h120v120h-120zM-44.86 -5.94a40.33 40.33 0 1 0 80.65 0a40.33 40.33 0 1 0 -80.65 0z" fill="#b00000"/>
<path d="M-60-60h120v120h-120zM-44.72 -5.44a40.57 40.57 0 1 0 81.13 0a40.57 40.57 0 1 0 -81.13 0z" fill="#ac0000"/>
<path d="M-60-60h120v120h-120zM-44.59 -4.95a40.81 40.81 0 1 0 81.63 0a40.81 40.81 0 1 0 -81.63 0z" fill="#a80000"/>
<path d="M-60-60h120v120h-120zM-44.47 -4.45a41.07 41.07 0 1 0 82.15 0a41.07 41.07 0 1 0 -82.15 0z" fill="#a40000"/>
<path d="M-60-60h120v120h-120zM-44.37 -3.96a41.35 41.35 0 1 0 82.69 0a41.35 41.35 0 1 0 -82.69 0z" fill="#a00000"/>
<path d="M-60-60h120v120h-120zM-44.28 -3.46a41.63 41.63 0 1 0 83.27 0a41.63 41.63 0 1 0 -83.27 0z" fill="#9c0000"/>
<path d="M-60-60h120v120h-120zM-44.21 -2.97a41.94 41.94 0 1 0 83.88 0a41.94 41.94 0 1 0 -83.88 0z" fill="#980000"/>
<path d="M-60-60h120v120h-120zM-44.16 -2.47a42.27 42.27 0 1 0 84.54 0a42.27 42.27 0 1 0 -84.54 0z" fill="#940000"/>
<path d="M-60-60h120v120h-120zM-44.15 -1.98a42.64 42.64 0 1 0 85.27 0a42.64 42.64 0 1 0 -85.27 0z" fill="#900000"/>
<path d="M-60-60h120v120h-120zM-44.18 -1.48a43.04 43.04 0 1 0 86.09 0a43.04 43.04 0 1 0 -86.09 0z" fill="#8c0000"/>
<path d="M-60-60h120v120h-120zM-44.28 -0.99a43.52 43.52 0 1 0 87.05 0a43.52 43.52 0 1 0 -87.05 0z" fill="#880000"/>
<path d="M-60-60h120v120h-120zM-44.52 -0.49a44.14 44.14 0 1 0 88.29 0a44.14 44.14 0 1 0 -88.29 0z" fill="#840000"/>
</g></g>
<defs><radialGradient id="haze"><stop offset="0" stop-color="#fff" stop-opacity="0.16"/><stop offset="0.6" stop-color="#fff" stop-opacity="0.1"/><stop offset="1" stop-color="#fff" stop-opacity="0"/></radialGradient></defs>
<ellipse cx="1611" cy="282" rx="200" ry="80" fill="url(#haze)"/>
<defs><linearGradient id="sd" x1="0" x2="1" y1="0" y2="0"><stop offset="0" stop-color="#800000" stop-opacity="0.65"/><stop offset="0.15" stop-color="#800000" stop-opacity="0"/><stop offset="0.85" stop-color="#800000" stop-opacity="0"/><stop offset="1" stop-color="#800000" stop-opacity="0.65"/></linearGradient></defs>
<ellipse cx="1611.5" cy="277.0" rx="240.9" ry="117.3" fill="url(#sd)"/>
<path d="M1244.5 253 L1244.5 696 M1244.5 696 L1562.4 899.5 L1978.6 744" fill="none" stroke="#4a4a4a" stroke-width="2.2"/>
<path d="M1244.5 253 l-10 -6 M1244.5 341.6 l-10 -6 M1244.5 430.2 l-10 -6 M1244.5 518.8 l-10 -6 M1244.5 607.4 l-10 -6 M1244.5 696 l-10 -6 M1562.4 899.5 l-11 4.3 M1562.4 899.5 l10.5 6.8 M1403.5 797.8 l-11 4.3 M1770.5 821.8 l10.5 6.8 M1244.5 696 l-11 4.3 M1978.6 744 l10.5 6.8" fill="none" stroke="#4a4a4a" stroke-width="2.2"/>
<text x="1227" y="250" font-size="33" text-anchor="end" fill="#484848" textLength="14.5" lengthAdjust="spacingAndGlyphs">0</text>
<text x="1227" y="338.6" font-size="33" text-anchor="end" fill="#484848" textLength="33.5" lengthAdjust="spacingAndGlyphs">−1</text>
<text x="1227" y="427.2" font-size="33" text-anchor="end" fill="#484848" textLength="33.5" lengthAdjust="spacingAndGlyphs">−2</text>
<text x="1227" y="515.8" font-size="33" text-anchor="end" fill="#484848" textLength="33.5" lengthAdjust="spacingAndGlyphs">−3</text>
<text x="1227" y="604.4" font-size="33" text-anchor="end" fill="#484848" textLength="33.5" lengthAdjust="spacingAndGlyphs">−4</text>
<text x="1227" y="693" font-size="33" text-anchor="end" fill="#484848" textLength="33.5" lengthAdjust="spacingAndGlyphs">−5</text>
<text x="1225" y="731" font-size="33" text-anchor="end" fill="#484848" textLength="28" lengthAdjust="spacingAndGlyphs">50</text>
<text x="1384.5" y="833.5" font-size="33" text-anchor="end" fill="#484848" textLength="14.5" lengthAdjust="spacingAndGlyphs">0</text>
<text x="1543.5" y="934.5" font-size="33" text-anchor="end" fill="#484848" textLength="45" lengthAdjust="spacingAndGlyphs">−50</text>
<text x="1584" y="938" font-size="33" fill="#484848" textLength="45" lengthAdjust="spacingAndGlyphs">−50</text>
<text x="1790" y="862.5" font-size="33" fill="#484848" textLength="14.5" lengthAdjust="spacingAndGlyphs">0</text>
<text x="1997.5" y="783.3" font-size="33" fill="#484848" textLength="28" lengthAdjust="spacingAndGlyphs">50</text>
<text font-size="29.5" font-weight="bold" textLength="239" lengthAdjust="spacingAndGlyphs" transform="translate(1175.3 594.5) rotate(-90)">Deflection(nm)</text>
<text font-size="29.5" font-weight="bold" textLength="80" lengthAdjust="spacingAndGlyphs" transform="translate(1316.8 824.7) rotate(32.6)">y(μm)</text>
<text font-size="29.5" font-weight="bold" textLength="79" lengthAdjust="spacingAndGlyphs" transform="translate(1777.5 902) rotate(-20.5)">x(μm)</text>
<text x="1138.5" y="151.9" font-size="68" textLength="77" lengthAdjust="spacingAndGlyphs" stroke="#000" stroke-width="0.9">(b)</text>
<defs><linearGradient id="jet" x1="0" y1="0" x2="0" y2="1">
<stop offset="0.0000" stop-color="#800000"/>
<stop offset="0.0156" stop-color="#8f0000"/>
<stop offset="0.0312" stop-color="#9f0000"/>
<stop offset="0.0469" stop-color="#af0000"/>
<stop offset="0.0625" stop-color="#bf0000"/>
<stop offset="0.0781" stop-color="#cf0000"/>
<stop offset="0.0938" stop-color="#df0000"/>
<stop offset="0.1094" stop-color="#ef0000"/>
<stop offset="0.1250" stop-color="#ff0000"/>
<stop offset="0.1406" stop-color="#ff1000"/>
<stop offset="0.1562" stop-color="#ff2000"/>
<stop offset="0.1719" stop-color="#ff3000"/>
<stop offset="0.1875" stop-color="#ff4000"/>
<stop offset="0.2031" stop-color="#ff5000"/>
<stop offset="0.2188" stop-color="#ff6000"/>
<stop offset="0.2344" stop-color="#ff7000"/>
<stop offset="0.2500" stop-color="#ff8000"/>
<stop offset="0.2656" stop-color="#ff8f00"/>
<stop offset="0.2812" stop-color="#ff9f00"/>
<stop offset="0.2969" stop-color="#ffaf00"/>
<stop offset="0.3125" stop-color="#ffbf00"/>
<stop offset="0.3281" stop-color="#ffcf00"/>
<stop offset="0.3438" stop-color="#ffdf00"/>
<stop offset="0.3594" stop-color="#ffef00"/>
<stop offset="0.3750" stop-color="#ffff00"/>
<stop offset="0.3906" stop-color="#efff10"/>
<stop offset="0.4062" stop-color="#dfff20"/>
<stop offset="0.4219" stop-color="#cfff30"/>
<stop offset="0.4375" stop-color="#bfff40"/>
<stop offset="0.4531" stop-color="#afff50"/>
<stop offset="0.4688" stop-color="#9fff60"/>
<stop offset="0.4844" stop-color="#8fff70"/>
<stop offset="0.5000" stop-color="#80ff80"/>
<stop offset="0.5156" stop-color="#70ff8f"/>
<stop offset="0.5312" stop-color="#60ff9f"/>
<stop offset="0.5469" stop-color="#50ffaf"/>
<stop offset="0.5625" stop-color="#40ffbf"/>
<stop offset="0.5781" stop-color="#30ffcf"/>
<stop offset="0.5938" stop-color="#20ffdf"/>
<stop offset="0.6094" stop-color="#10ffef"/>
<stop offset="0.6250" stop-color="#00ffff"/>
<stop offset="0.6406" stop-color="#00efff"/>
<stop offset="0.6562" stop-color="#00dfff"/>
<stop offset="0.6719" stop-color="#00cfff"/>
<stop offset="0.6875" stop-color="#00bfff"/>
<stop offset="0.7031" stop-color="#00afff"/>
<stop offset="0.7188" stop-color="#009fff"/>
<stop offset="0.7344" stop-color="#008fff"/>
<stop offset="0.7500" stop-color="#0080ff"/>
<stop offset="0.7656" stop-color="#0070ff"/>
<stop offset="0.7812" stop-color="#0060ff"/>
<stop offset="0.7969" stop-color="#0050ff"/>
<stop offset="0.8125" stop-color="#0040ff"/>
<stop offset="0.8281" stop-color="#0030ff"/>
<stop offset="0.8438" stop-color="#0020ff"/>
<stop offset="0.8594" stop-color="#0010ff"/>
<stop offset="0.8750" stop-color="#0000ff"/>
<stop offset="0.8906" stop-color="#0000ef"/>
<stop offset="0.9062" stop-color="#0000df"/>
<stop offset="0.9219" stop-color="#0000cf"/>
<stop offset="0.9375" stop-color="#0000bf"/>
<stop offset="0.9531" stop-color="#0000af"/>
<stop offset="0.9688" stop-color="#00009f"/>
<stop offset="0.9844" stop-color="#00008f"/>
<stop offset="1.0000" stop-color="#000080"/>
</linearGradient></defs>
<rect x="2053.5" y="97.3" width="43.2" height="801" fill="url(#jet)" stroke="#8f9499" stroke-width="2"/>
<text x="2106.5" y="108" font-size="28" fill="#404040" font-family='"Liberation Sans", sans-serif' textLength="14.3" lengthAdjust="spacingAndGlyphs">0</text>
<text x="2105.5" y="196.8" font-size="28" fill="#404040" font-family='"Liberation Sans", sans-serif' textLength="44.4" lengthAdjust="spacingAndGlyphs">-0.5</text>
<text x="2105.5" y="285.5" font-size="28" fill="#404040" font-family='"Liberation Sans", sans-serif' textLength="22.9" lengthAdjust="spacingAndGlyphs">-1</text>
<text x="2105.5" y="374.2" font-size="28" fill="#404040" font-family='"Liberation Sans", sans-serif' textLength="44.4" lengthAdjust="spacingAndGlyphs">-1.5</text>
<text x="2105.5" y="463" font-size="28" fill="#404040" font-family='"Liberation Sans", sans-serif' textLength="22.9" lengthAdjust="spacingAndGlyphs">-2</text>
<text x="2105.5" y="551.8" font-size="28" fill="#404040" font-family='"Liberation Sans", sans-serif' textLength="44.4" lengthAdjust="spacingAndGlyphs">-2.5</text>
<text x="2105.5" y="640.5" font-size="28" fill="#404040" font-family='"Liberation Sans", sans-serif' textLength="22.9" lengthAdjust="spacingAndGlyphs">-3</text>
<text x="2105.5" y="729.2" font-size="28" fill="#404040" font-family='"Liberation Sans", sans-serif' textLength="44.4" lengthAdjust="spacingAndGlyphs">-3.5</text>
<text x="2105.5" y="818" font-size="28" fill="#404040" font-family='"Liberation Sans", sans-serif' textLength="22.9" lengthAdjust="spacingAndGlyphs">-4</text>
<text x="2105.5" y="906.8" font-size="28" fill="#404040" font-family='"Liberation Sans", sans-serif' textLength="44.4" lengthAdjust="spacingAndGlyphs">-4.5</text>
<path d="M2088.7 186.1 h7 M2088.7 274.8 h7 M2088.7 363.6 h7 M2088.7 452.3 h7 M2088.7 541 h7 M2088.7 629.8 h7 M2088.7 718.5 h7 M2088.7 807.3 h7" stroke="#3a2a2a" stroke-width="2" fill="none" opacity="0.8"/>
</g>
<g id="panel-c">
<path d="M254.2 1688.7 L960 1148.9" stroke="#f01818" stroke-width="2.7" fill="none"/>
<path d="M254.2 1696.1 L960 1147" stroke="#333" stroke-width="2.7" fill="none"/>
<rect x="247.2" y="1686.6" width="14" height="14" fill="#4d4d4d"/>
<rect x="389" y="1576.8" width="14" height="14" fill="#4d4d4d"/>
<rect x="530.2" y="1467" width="14" height="14" fill="#4d4d4d"/>
<rect x="670.7" y="1357.2" width="14" height="14" fill="#4d4d4d"/>
<rect x="812.5" y="1247.4" width="14" height="14" fill="#4d4d4d"/>
<rect x="953" y="1137.6" width="14" height="14" fill="#4d4d4d"/>
<circle cx="254.2" cy="1693.6" r="7.5" fill="#ee3a40"/>
<circle cx="396" cy="1573.9" r="7.5" fill="#ee3a40"/>
<circle cx="537.2" cy="1464.1" r="7.5" fill="#ee3a40"/>
<circle cx="677.7" cy="1359.2" r="7.5" fill="#ee3a40"/>
<circle cx="819.5" cy="1254.4" r="7.5" fill="#ee3a40"/>
<circle cx="960" cy="1153.2" r="7.5" fill="#ee3a40"/>
<rect x="161.6" y="1076.7" width="894.2" height="678.6" fill="none" stroke="#1a1a1a" stroke-width="3.2"/>
<path d="M161.6 1755.3 v14 M225.5 1755.3 v7 M289.3 1755.3 v14 M353.2 1755.3 v7 M417.1 1755.3 v14 M480.9 1755.3 v7 M544.8 1755.3 v14 M608.7 1755.3 v7 M672.6 1755.3 v14 M736.4 1755.3 v7 M800.3 1755.3 v14 M864.2 1755.3 v7 M928 1755.3 v14 M991.9 1755.3 v7 M1055.8 1755.3 v14 M161.6 1755.3 h-7 M161.6 1693.6 h-14.5 M161.6 1631.9 h-7 M161.6 1570.2 h-14.5 M161.6 1508.5 h-7 M161.6 1446.8 h-14.5 M161.6 1385.2 h-7 M161.6 1323.5 h-14.5 M161.6 1261.8 h-7 M161.6 1200.1 h-14.5 M161.6 1138.4 h-7 M161.6 1076.7 h-14.5" stroke="#1a1a1a" stroke-width="3.2" fill="none"/>
<text x="161.6" y="1813.5" font-size="44" text-anchor="middle">0</text>
<text x="289.3" y="1813.5" font-size="44" text-anchor="middle">2</text>
<text x="417.1" y="1813.5" font-size="44" text-anchor="middle">4</text>
<text x="544.8" y="1813.5" font-size="44" text-anchor="middle">6</text>
<text x="672.6" y="1813.5" font-size="44" text-anchor="middle">8</text>
<text x="800.3" y="1813.5" font-size="44" text-anchor="middle">10</text>
<text x="928" y="1813.5" font-size="44" text-anchor="middle">12</text>
<text x="1055.8" y="1813.5" font-size="44" text-anchor="middle">14</text>
<text x="136" y="1707.6" font-size="44" text-anchor="end">0</text>
<text x="136" y="1584.2" font-size="44" text-anchor="end">1</text>
<text x="136" y="1460.8" font-size="44" text-anchor="end">2</text>
<text x="136" y="1337.5" font-size="44" text-anchor="end">3</text>
<text x="136" y="1214.1" font-size="44" text-anchor="end">4</text>
<text x="136" y="1090.7" font-size="44" text-anchor="end">5</text>
<rect x="215" y="1114.6" width="16.5" height="16.5" fill="#4d4d4d"/>
<circle cx="223.2" cy="1174" r="8.5" fill="#ee3a40"/>
<path d="M188.8 1225.5 H258" stroke="#f01818" stroke-width="3"/>
<path d="M188.8 1276.7 H258" stroke="#4d4d4d" stroke-width="4"/>
<text x="267.5" y="1134" font-size="44" textLength="192.5" lengthAdjust="spacingAndGlyphs">Simulation</text>
<text x="268" y="1185.5" font-size="44" textLength="75" lengthAdjust="spacingAndGlyphs">Test</text>
<text x="267.5" y="1236.7" font-size="44" textLength="369" lengthAdjust="spacingAndGlyphs">Simulation Linear fit</text>
<text x="268" y="1288.7" font-size="44" textLength="251" lengthAdjust="spacingAndGlyphs">Test Linear fit</text>
<text x="421" y="1617.6" font-size="44" fill="#1b5482" textLength="626" lengthAdjust="spacingAndGlyphs">Slope Simulation: 0.403 nm/mmHg</text>
<text x="421" y="1667.8" font-size="44" fill="#1b5482" textLength="509" lengthAdjust="spacingAndGlyphs">Slope Test: 0.396 nm/mmHg</text>
<text x="421" y="1718.7" font-size="44" fill="#1b5482" textLength="105" lengthAdjust="spacingAndGlyphs">R² = 1</text>
<text x="20" y="1093.7" font-size="68" textLength="73" lengthAdjust="spacingAndGlyphs" stroke="#000" stroke-width="0.9">(c)</text>
<text x="608.5" y="1878.6" font-size="60" text-anchor="middle" font-weight="bold" textLength="292" lengthAdjust="spacingAndGlyphs">ΔP(mmHg)</text>
<text font-size="60" text-anchor="middle" font-weight="bold" textLength="191" lengthAdjust="spacingAndGlyphs" transform="translate(79.4 1415.8) rotate(-90)">ΔL(nm)</text>
</g>
<g id="panel-d">
<path d="M1354.5 1135.7L1357 1135.3Q1359 1135 1360.3 1135.5L1360.7 1135.7Q1362 1136.2 1363.8 1135.8L1364.2 1135.8Q1366 1135.4 1367.6 1135.3L1367.9 1135.3Q1369.5 1135.2 1370.1 1137.9L1371.4 1143.3Q1372 1146 1372.5 1148.8L1375 1164.2Q1375.5 1167 1376.2 1169.7L1385.5 1203Q1386.2 1205.7 1389 1205.6L1413.2 1204.9Q1416 1204.8 1416.9 1207.5L1423.4 1227.5Q1424.3 1230.2 1425 1232.9L1431.9 1259.7Q1432.6 1262.4 1434 1264.8L1436 1268.3Q1437.4 1270.7 1440.2 1270.6L1459.6 1270.1Q1462.4 1270 1462.7 1272.8L1466.8 1309.6Q1467.1 1312.4 1467.6 1315.1L1472.1 1338.3Q1472.6 1341 1474.1 1343.4L1476.4 1346.9Q1477.9 1349.3 1480.7 1349.2L1497.7 1348.7Q1500.5 1348.6 1501.8 1346.2L1502 1345.7Q1503.3 1343.3 1504.5 1344.9L1504.8 1345.3Q1506 1346.9 1506.3 1349.7L1508.5 1366.7Q1508.8 1369.5 1509.5 1372.2L1519.5 1410.2Q1520.2 1412.9 1523 1413L1547.2 1414.2Q1550 1414.3 1550.5 1417L1557.1 1451.1Q1557.6 1453.8 1558.4 1456.5L1562.8 1472.5Q1563.6 1475.2 1566 1476.7L1567.1 1477.3Q1569.5 1478.8 1572.3 1478.7L1592.4 1478.2Q1595.2 1478.1 1595.5 1480.9L1597.8 1501Q1598.1 1503.8 1598.4 1506.6L1601.4 1532Q1601.7 1534.8 1602.6 1537.4L1606.7 1549.3Q1607.6 1551.9 1610.4 1551.8L1628.6 1551.5Q1631.4 1551.4 1632.5 1554L1634.6 1558.4Q1635.7 1561 1635.9 1563.8L1638.4 1605.8Q1638.6 1608.6 1639 1611.4L1642.9 1635.5Q1643.3 1638.3 1645.4 1640.2L1646 1640.7Q1648.1 1642.6 1650.9 1642.5L1670.3 1642Q1673.1 1641.9 1673.6 1644.7L1679.7 1677.2Q1680.2 1680 1681.5 1682.5L1688.5 1696.5Q1689.8 1699 1692.6 1698.9L1720.3 1698Q1723.1 1697.9 1723.4 1695.1L1727.8 1659Q1728.1 1656.2 1729.5 1653.8L1730.7 1651.4Q1732.1 1649 1734 1647L1737.4 1643.4Q1739.3 1641.4 1742.1 1641.5L1763.2 1642.5Q1766 1642.6 1766.7 1639.9L1773.6 1611.3Q1774.3 1608.6 1774.7 1605.8L1779.4 1568.5Q1779.8 1565.7 1780.6 1563L1782.5 1556Q1783.3 1553.3 1786.1 1553.2L1817.9 1551.5Q1820.7 1551.4 1821 1548.6L1825.4 1511.4Q1825.7 1508.6 1826.5 1505.9L1833.7 1482.7Q1834.5 1480 1837.1 1479.1L1840.3 1478Q1842.9 1477.1 1845.7 1477.2L1856.7 1477.5Q1859.5 1477.6 1860.8 1475.1L1861.8 1473Q1863.1 1470.5 1863.6 1467.7L1866.2 1451.8Q1866.7 1449 1867.3 1446.3L1873.2 1419.6Q1873.8 1416.9 1875.4 1416.1L1875.8 1416Q1877.4 1415.2 1880.2 1415.1L1900.1 1414.1Q1902.9 1414 1903.4 1411.2L1911.4 1362.8Q1911.9 1360 1913 1357.4L1914.4 1354.3Q1915.5 1351.7 1917.1 1350.6L1917.4 1350.4Q1919 1349.3 1921.8 1349.4L1940.1 1349.9Q1942.9 1350 1943.2 1347.2L1947.3 1305.7Q1947.6 1302.9 1948.1 1300.2L1953.1 1274.6Q1953.6 1271.9 1956.4 1271.8L1980.5 1270.8Q1983.3 1270.7 1983.8 1267.9L1988.8 1239Q1989.3 1236.2 1990.2 1233.6L1996.7 1215Q1997.6 1212.4 1999.5 1210.3L2000.5 1209.2Q2002.4 1207.1 2005.2 1207L2027 1205.8Q2029.8 1205.7 2030.3 1202.9L2038.8 1150.9Q2039.3 1148.1 2040.3 1145.5L2043 1138.8Q2044 1136.2 2046.2 1135.3L2046.6 1135.2Q2048.8 1134.3 2051.3 1135.6L2052.3 1136.1Q2054.8 1137.4 2056.9 1136.6L2057.4 1136.5Q2059.5 1135.7 2062.2 1135.9L2065.5 1136.2" fill="none" stroke="#111" stroke-width="2.3" stroke-linejoin="round"/>
<path d="M1354.5 1676L1357 1676.4Q1359 1676.8 1361.2 1676.3L1361.8 1676.1Q1364 1675.6 1366.2 1676L1366.8 1676Q1369 1676.4 1369.5 1673.6L1375 1644.7Q1375.5 1641.9 1376.3 1639.2L1385.4 1610.8Q1386.2 1608.1 1389 1608.2L1413.2 1608.9Q1416 1609 1416.9 1606.4L1423.4 1587.4Q1424.3 1584.8 1425 1582.1L1431.9 1556.5Q1432.6 1553.8 1434 1551.4L1436 1547.9Q1437.4 1545.5 1440.2 1545.6L1459.6 1546.1Q1462.4 1546.2 1462.7 1543.4L1466.4 1506.6Q1466.7 1503.8 1467.3 1501.1L1472 1480.3Q1472.6 1477.6 1474.3 1475.4L1476.2 1472.7Q1477.9 1470.5 1480.7 1470.6L1497.7 1470.9Q1500.5 1471 1501.8 1473.4L1502 1474Q1503.3 1476.4 1504.5 1474.3L1504.8 1473.8Q1506 1471.7 1506.3 1468.9L1508.5 1451.8Q1508.8 1449 1509.4 1446.3L1511.8 1436.5Q1512.4 1433.8 1513.3 1431.1L1519.3 1413.2Q1520.2 1410.5 1523 1410.3L1546.5 1409Q1549.3 1408.8 1549.9 1406.1L1555.8 1379.4Q1556.4 1376.7 1557.1 1374L1561.7 1356.7Q1562.4 1354 1564 1351.7L1564.4 1350.9Q1566 1348.6 1568.8 1348.4L1592.4 1347.1Q1595.2 1346.9 1595.7 1344.1L1597.1 1336.6Q1597.6 1333.8 1597.9 1331L1601.4 1294.9Q1601.7 1292.1 1602.7 1289.5L1606.6 1279.3Q1607.6 1276.7 1610.4 1276.6L1628.6 1276.3Q1631.4 1276.2 1632.6 1273.7L1634.5 1269.6Q1635.7 1267.1 1635.9 1264.3L1638.4 1219.9Q1638.6 1217.1 1639.2 1214.4L1642.7 1196.5Q1643.3 1193.8 1645.5 1192L1645.9 1191.6Q1648.1 1189.8 1650.9 1189.8L1670.3 1189.8Q1673.1 1189.8 1673.6 1187.1L1679.7 1155.6Q1680.2 1152.9 1681.6 1150.5L1688.4 1138.1Q1689.8 1135.7 1692.6 1135.7L1720.3 1136.2Q1723.1 1136.2 1723.4 1139L1726.7 1172.2Q1727 1175 1728.4 1177.4L1729.1 1178.6Q1730.5 1181 1732.4 1183.1L1737.1 1188.4Q1739 1190.5 1741.8 1190.4L1763.2 1189.9Q1766 1189.8 1766.8 1192.5L1774.2 1219.2Q1775 1221.9 1775.4 1224.7L1781.7 1270.3Q1782.1 1273.1 1783.2 1274.5L1783.4 1274.8Q1784.5 1276.2 1787.3 1276.2L1817.9 1276.2Q1820.7 1276.2 1821.1 1279L1825.8 1314.3Q1826.2 1317.1 1827 1319.8L1833.7 1341.8Q1834.5 1344.5 1836.1 1345.6L1836.5 1345.8Q1838.1 1346.9 1840.9 1346.9L1856.7 1346.9Q1859.5 1346.9 1860.9 1349.3L1861.7 1350.5Q1863.1 1352.9 1863.7 1355.6L1873.2 1402.5Q1873.8 1405.2 1875.4 1406.8L1875.8 1407.2Q1877.4 1408.8 1880.2 1408.9L1900.8 1409.2Q1903.6 1409.3 1904.1 1412L1909 1436.8Q1909.5 1439.5 1910.1 1442.2L1913.7 1458.3Q1914.3 1461 1915.6 1463.5L1917.7 1467.5Q1919 1470 1921.8 1469.9L1941.2 1469.4Q1944 1469.3 1944.2 1472.1L1947.4 1510.5Q1947.6 1513.3 1948.1 1516L1953.1 1541.1Q1953.6 1543.8 1956.4 1543.8L1980.5 1544.3Q1983.3 1544.3 1983.8 1547.1L1988.8 1574.8Q1989.3 1577.6 1990.2 1580.2L1996.7 1598.8Q1997.6 1601.4 1999.6 1603.4L2000.4 1604.2Q2002.4 1606.2 2005.2 1606.2L2027 1606.2Q2029.8 1606.2 2030.2 1609L2037.7 1658.2Q2038.1 1661 2039.1 1663.6L2041.9 1670.3Q2042.9 1672.9 2044.9 1674.9L2045.6 1675.6Q2047.6 1677.6 2049.9 1676L2051.3 1674.9Q2053.6 1673.3 2055.2 1674.7L2055.5 1675Q2057.1 1676.4 2059.3 1675.7L2059.7 1675.5Q2061.9 1674.8 2064.1 1675.5L2066.7 1676.4" fill="none" stroke="#ee5050" stroke-width="2.1" stroke-linejoin="round"/>
<path d="M2126.5 1078.7 H1285.3 V1757 H2126.5" fill="none" stroke="#1a1a1a" stroke-width="3.2" stroke-linecap="square"/>
<path d="M2126.5 1078.7 V1757" fill="none" stroke="#ee5050" stroke-width="3.2" stroke-linecap="square"/>
<path d="M1284.6 1757 v6 M1354.6 1757 v12.5 M1424.6 1757 v6 M1494.7 1757 v12.5 M1564.7 1757 v6 M1634.7 1757 v12.5 M1704.8 1757 v6 M1774.8 1757 v12.5 M1844.8 1757 v6 M1914.9 1757 v12.5 M1984.9 1757 v6 M2054.9 1757 v12.5 M2125 1757 v6 M1285.3 1755.7 h-6 M1285.3 1699.3 h-14 M1285.3 1642.9 h-6 M1285.3 1586.5 h-14 M1285.3 1530.1 h-6 M1285.3 1473.7 h-14 M1285.3 1417.3 h-6 M1285.3 1360.9 h-14 M1285.3 1304.5 h-6 M1285.3 1248.1 h-14 M1285.3 1191.7 h-6 M1285.3 1135.3 h-14 M1285.3 1078.9 h-6" stroke="#1a1a1a" stroke-width="3.2" fill="none"/>
<path d="M2126.5 1757.2 h5 M2126.5 1689.3 h12 M2126.5 1621.4 h5 M2126.5 1553.5 h12 M2126.5 1485.7 h5 M2126.5 1417.8 h12 M2126.5 1349.9 h5 M2126.5 1282 h12 M2126.5 1214.2 h5 M2126.5 1146.3 h12 M2126.5 1078.4 h5" stroke="#ee5050" stroke-width="3.2" fill="none"/>
<text x="1354.6" y="1813" font-size="44" text-anchor="middle">0</text>
<text x="1494.7" y="1813" font-size="44" text-anchor="middle">100</text>
<text x="1634.7" y="1813" font-size="44" text-anchor="middle">200</text>
<text x="1774.8" y="1813" font-size="44" text-anchor="middle">300</text>
<text x="1914.9" y="1813" font-size="44" text-anchor="middle">400</text>
<text x="2054.9" y="1813" font-size="44" text-anchor="middle">500</text>
<text x="1262" y="1149.3" font-size="44" text-anchor="end">0</text>
<text x="1262" y="1262.1" font-size="44" text-anchor="end">−1</text>
<text x="1262" y="1374.9" font-size="44" text-anchor="end">−2</text>
<text x="1262" y="1487.7" font-size="44" text-anchor="end">−3</text>
<text x="1262" y="1600.5" font-size="44" text-anchor="end">−4</text>
<text x="1262" y="1713.3" font-size="44" text-anchor="end">−5</text>
<text x="2147.5" y="1702.8" font-size="44" fill="#ee5050">0</text>
<text x="2148" y="1567" font-size="44" fill="#ee5050">100</text>
<text x="2148" y="1431.3" font-size="44" fill="#ee5050">200</text>
<text x="2148" y="1295.5" font-size="44" fill="#ee5050">300</text>
<text x="2148" y="1159.8" font-size="44" fill="#ee5050">400</text>
<path d="M1769 1111.3 H1815.5" stroke="#111" stroke-width="3"/>
<path d="M1769 1163 H1815.5" stroke="#ee5050" stroke-width="3"/>
<text x="1827" y="1119.5" font-size="41.5" textLength="288.5" lengthAdjust="spacingAndGlyphs">Wavelength Shift</text>
<text x="1825" y="1170.7" font-size="41.5" textLength="141" lengthAdjust="spacingAndGlyphs">Pressure</text>
<text x="1132" y="1092.8" font-size="68" textLength="77" lengthAdjust="spacingAndGlyphs" stroke="#000" stroke-width="0.9">(d)</text>
<text x="1705" y="1881" font-size="57" text-anchor="middle" font-weight="bold" textLength="200.5" lengthAdjust="spacingAndGlyphs">Time (s)</text>
<text font-size="59" text-anchor="middle" font-weight="bold" textLength="554.5" lengthAdjust="spacingAndGlyphs" transform="translate(1188 1411.7) rotate(-90)">Wavelength Shift(nm)</text>
<text font-size="58" text-anchor="middle" font-weight="bold" fill="#ff0000" textLength="416" lengthAdjust="spacingAndGlyphs" transform="translate(2275.8 1409.5) rotate(-90)">Pressure(mmHg)</text>
</g>
</svg>
</body></html>
